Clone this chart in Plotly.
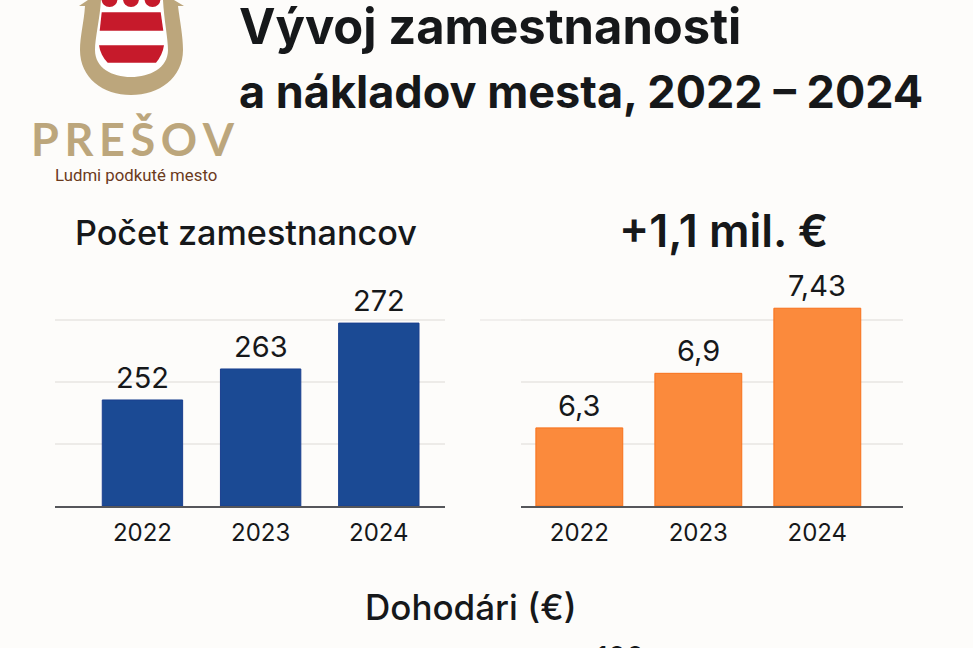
import plotly.graph_objects as go

W, H = 973, 648
BG = '#FDFCFA'
INK = '#16181A'
GOLD = '#BCA67C'
RED = '#C61A2B'
BROWN = '#6B3A1C'

years = ['2022', '2023', '2024']

# printed values
staff_labels = ['252', '263', '272']
cost_labels = ['6,3', '6,9', '7,43']

# bar heights as drawn, read in gridline steps (the picture is not to scale)
staff_heights = [1.71, 2.21, 2.95]
cost_heights = [1.26, 2.14, 3.19]
grid_steps = [1, 2, 3]


def px(x):
    return x / W


def py(y):
    return 1 - y / H


def path(*cmds):
    """Build an SVG path in paper coords from (cmd, x, y, ...) tuples given in pixels."""
    out = []
    for c in cmds:
        pts = c[1:]
        nums = []
        for i in range(0, len(pts), 2):
            nums.append(f"{px(pts[i]):.5f},{py(pts[i + 1]):.5f}")
        out.append(c[0] + ' '.join(nums))
    return ' '.join(out) + ' Z'


def text(fig, x, y, s, size, color=INK, weight=400, family='Inter', anchor='left', yanchor='middle'):
    fig.add_annotation(
        x=px(x), y=py(y), xref='paper', yref='paper', text=s, showarrow=False,
        xanchor=anchor, yanchor=yanchor,
        font=dict(family=family, size=size, color=color, weight=weight),
    )


fig = go.Figure()

fig.add_trace(go.Bar(
    x=years, y=staff_heights, xaxis='x', yaxis='y',
    width=0.68, marker=dict(color='#1B4A94', line=dict(color='#1A3F8F', width=1)),
))
fig.add_trace(go.Bar(
    x=years, y=cost_heights, xaxis='x2', yaxis='y2',
    width=0.73, marker=dict(color='#FB8A3C', line=dict(color='#F8701A', width=1)),
))
fig.update_traces(showlegend=False)

# value labels sit on the bars (category axes take the index here, "2022" would read as a position)
for xa, ya, ys, labels in [('x', 'y', staff_heights, staff_labels), ('x2', 'y2', cost_heights, cost_labels)]:
    for i, (h, lab) in enumerate(zip(ys, labels)):
        fig.add_annotation(x=i, y=h, xref=xa, yref=ya, text=lab, showarrow=False,
                           yanchor='bottom', yshift=3,
                           font=dict(family='Inter', size=29, color=INK))

axis_font = dict(family='Inter', size=24, color=INK)
base_line = dict(showline=True, linecolor='#55565A', linewidth=2, ticks='', type='category',
                 tickfont=axis_font, ticklabelstandoff=4)
y_common = dict(
    range=[0, 3.4], tickvals=grid_steps, showticklabels=False, showline=False,
    gridcolor='#EDEBE8', gridwidth=1.5, zeroline=False,
)

fig.update_layout(
    width=W, height=H, margin=dict(l=0, r=0, t=0, b=0), autosize=False,
    paper_bgcolor=BG, plot_bgcolor=BG, showlegend=False,
    xaxis=dict(domain=[px(55), px(445)], anchor='y', range=[-0.74, 2.56], **base_line),
    yaxis=dict(domain=[py(506), py(295.2)], anchor='x', **y_common),
    xaxis2=dict(domain=[px(521), px(903)], anchor='y2', range=[-0.49, 2.72], **base_line),
    yaxis2=dict(domain=[py(506), py(295.2)], anchor='x2', **y_common),
)

# headings
text(fig, 237, 26.5, 'Vývoj zamestnanosti', 48.9, weight=700)
text(fig, 237, 92, 'a nákladov mesta, 2022 – 2024', 45, weight=700)
text(fig, 73, 233, 'Počet zamestnancov', 34.2, weight=500)
text(fig, 617, 231, '+1,1 mil. €', 45, weight=600)
text(fig, 471, 607, 'Dohodári (€)', 35, weight=500, anchor='center')
text(fig, 620, 637, '100', 29, anchor='center', yanchor='top')

# logo
text(fig, 133, 139, 'P\u2009R\u2009E\u2009Š\u2009O\u2009V', 45, color=GOLD, weight=700, family='Lato', anchor='center')
text(fig, 136, 175, 'Ludmi podkuté mesto', 16.8, color=BROWN, family='Roboto', anchor='center')

shapes = [
    # gold shield outline with flared top
    dict(d=path(('M', 79, 6), ('L', 88, 0), ('L', 174, 0), ('L', 184, 6), ('L', 178, 6),
                ('C', 180, 22, 183, 36, 183, 50), ('C', 183, 78, 159, 95, 131, 95),
                ('C', 103, 95, 80, 78, 80, 50), ('C', 80, 36, 84, 22, 85, 6)), color=GOLD),
    # white field
    dict(d=path(('M', 101, 0), ('L', 163, 0), ('C', 164, 20, 168, 38, 168, 50), ('C', 168, 68, 150, 77, 131, 77),
                ('C', 112, 77, 95, 68, 95, 50), ('C', 95, 38, 100, 18, 101, 0)), color='#FFFFFF'),
    # red bands
    dict(d=path(('M', 101.7, 12.3), ('L', 160.7, 12.3), ('L', 163.3, 30.7), ('L', 99.7, 30.7)), color=RED),
    dict(d=path(('M', 99, 45.3), ('L', 164, 45.3), ('C', 163, 52, 160, 58, 156, 62.7),
                ('L', 107.7, 62.7), ('C', 103, 58, 100, 52, 99, 45.3)), color=RED),
]
for s in shapes:
    fig.add_shape(type='path', path=s['d'], xref='paper', yref='paper',
                  fillcolor=s['color'], line=dict(width=0), layer='above')

# crown scallops
for cx in [109.5, 131, 152.5]:
    fig.add_shape(type='circle', xref='paper', yref='paper', x0=px(cx - 8), x1=px(cx + 8),
                  y0=py(-9), y1=py(7), fillcolor=RED, line=dict(width=0), layer='above')

# top gridline of the right chart runs further left than the axis
fig.add_shape(type='line', xref='paper', yref='paper', x0=px(480), x1=px(521), y0=py(320), y1=py(320),
              line=dict(color='#EDEBE8', width=1.5), layer='below')

fig.write_html("out.html", config=dict(displayModeBar=False), post_script="document.body.style.margin='0';")
